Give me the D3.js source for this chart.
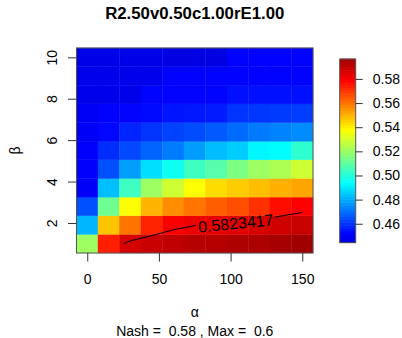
<!DOCTYPE html>
<html>
<head>
<meta charset="utf-8">
<script src="https://cdn.jsdelivr.net/npm/d3@7"></script>
<style>
  html, body { margin: 0; padding: 0; background: #fff; }
  svg { display: block; }
  text { font-family: "Liberation Sans", Arial, Helvetica, sans-serif; fill: #000; white-space: pre; }
</style>
</head>
<body>
<svg id="chart" width="402" height="338"></svg>
<script>
// ---------------- data ----------------
const chartTitle = "R2.50v0.50c1.00rE1.00";
const xLabel = "α";
const yLabel = "β";
const subTitle = "Nash =  0.58 , Max =  0.6";
const alphaValues = [0, 15, 30, 45, 60, 75, 90, 105, 120, 135, 150];
const betaValues = [1, 1.9, 2.8, 3.7, 4.6, 5.5, 6.4, 7.3, 8.2, 9.1, 10];
// rows listed from beta = 10 (top) down to beta = 1 (bottom); columns follow alphaValues
const zRows = [
  [0.4458, 0.4458, 0.4458, 0.4458, 0.4443, 0.4443, 0.4443, 0.4516, 0.4516, 0.4516, 0.4516],
  [0.4463, 0.4463, 0.4463, 0.4463, 0.4518, 0.4518, 0.4518, 0.4518, 0.4518, 0.4518, 0.4518],
  [0.4468, 0.4468, 0.4468, 0.4520, 0.4520, 0.4520, 0.4520, 0.4540, 0.4540, 0.4540, 0.4540],
  [0.4490, 0.4518, 0.4520, 0.4530, 0.4550, 0.4555, 0.4560, 0.4600, 0.4605, 0.4610, 0.4615],
  [0.4495, 0.4525, 0.4575, 0.4600, 0.4625, 0.4640, 0.4665, 0.4692, 0.4718, 0.4732, 0.4746],
  [0.4508, 0.4590, 0.4636, 0.4680, 0.4720, 0.4775, 0.4828, 0.4855, 0.4925, 0.4935, 0.5017],
  [0.4508, 0.4645, 0.4776, 0.4884, 0.4962, 0.5044, 0.5085, 0.5153, 0.5208, 0.5235, 0.5290],
  [0.4500, 0.4831, 0.5044, 0.5208, 0.5290, 0.5372, 0.5433, 0.5458, 0.5481, 0.5506, 0.5522],
  [0.4647, 0.5126, 0.5370, 0.5497, 0.5561, 0.5600, 0.5637, 0.5663, 0.5710, 0.5765, 0.5790],
  [0.4818, 0.5471, 0.5600, 0.5735, 0.5795, 0.5820, 0.5828, 0.5843, 0.5865, 0.5878, 0.5893],
  [0.5208, 0.5740, 0.5862, 0.5890, 0.5906, 0.5922, 0.5925, 0.5938, 0.5940, 0.5952, 0.5965]
];
const contourLevel = 0.5823417;
const xTicks = [0, 50, 100, 150];
const yTicks = [2, 4, 6, 8, 10];
const legendTicks = [0.46, 0.48, 0.50, 0.52, 0.54, 0.56, 0.58];
const paletteStops = [0, 0.047, 0.325, 0.613, 0.884, 1];
const paletteColors = ["#0000E2", "#0000FF", "#00FFFF", "#FFFF00", "#FF0000", "#A00000"];

// ---------------- layout ----------------
const svg = d3.select("#chart");
const plot = { left: 76.5, right: 313, top: 48, bottom: 253 };
const dAlpha = alphaValues[1] - alphaValues[0];
const dBeta = betaValues[1] - betaValues[0];

const x = d3.scaleLinear()
  .domain([alphaValues[0] - dAlpha / 2, alphaValues[alphaValues.length - 1] + dAlpha / 2])
  .range([plot.left, plot.right]);
const y = d3.scaleLinear()
  .domain([betaValues[0] - dBeta / 2, betaValues[betaValues.length - 1] + dBeta / 2])
  .range([plot.bottom, plot.top]);

// z grid indexed from bottom row
const zGrid = zRows.slice().reverse();
const allZ = zGrid.flat();
const zExt = d3.extent(allZ);
const color = d3.scaleLinear()
  .domain(paletteStops.map(s => zExt[0] + s * (zExt[1] - zExt[0])))
  .range(paletteColors)
  .clamp(true);

// ---------------- cells ----------------
const cells = [];
zGrid.forEach((row, j) => row.forEach((v, i) => cells.push({ a: alphaValues[i], b: betaValues[j], v })));
svg.append("g").selectAll("rect").data(cells).join("rect")
  .attr("x", d => x(d.a - dAlpha / 2))
  .attr("y", d => y(d.b + dBeta / 2))
  .attr("width", d => x(d.a + dAlpha / 2) - x(d.a - dAlpha / 2))
  .attr("height", d => y(d.b - dBeta / 2) - y(d.b + dBeta / 2))
  .attr("fill", d => color(d.v))
  .attr("stroke", d => color(d.v))
  .attr("stroke-width", 0.4);

// ---------------- contour (marching squares) ----------------
function contourSegments(grid, level) {
  const segs = [];
  const ny = grid.length, nx = grid[0].length;
  const interp = (p, q, vp, vq) => {
    const t = (level - vp) / (vq - vp);
    return [p[0] + t * (q[0] - p[0]), p[1] + t * (q[1] - p[1])];
  };
  for (let j = 0; j < ny - 1; j++) {
    for (let i = 0; i < nx - 1; i++) {
      const c = [[i, j], [i + 1, j], [i + 1, j + 1], [i, j + 1]];
      const v = [grid[j][i], grid[j][i + 1], grid[j + 1][i + 1], grid[j + 1][i]];
      const pts = [];
      for (let k = 0; k < 4; k++) {
        const k2 = (k + 1) % 4;
        const a = v[k] >= level, b = v[k2] >= level;
        if (a !== b) pts.push(interp(c[k], c[k2], v[k], v[k2]));
      }
      if (pts.length === 2) segs.push([pts[0], pts[1]]);
      else if (pts.length === 4) {
        const center = d3.mean(v);
        if ((center >= level) === (v[0] >= level)) { segs.push([pts[0], pts[3]]); segs.push([pts[1], pts[2]]); }
        else { segs.push([pts[0], pts[1]]); segs.push([pts[2], pts[3]]); }
      }
    }
  }
  const key = p => p[0].toFixed(6) + "," + p[1].toFixed(6);
  const lines = [];
  const used = new Array(segs.length).fill(false);
  for (let s = 0; s < segs.length; s++) {
    if (used[s]) continue;
    used[s] = true;
    let line = [segs[s][0], segs[s][1]];
    let extended = true;
    while (extended) {
      extended = false;
      for (let t = 0; t < segs.length; t++) {
        if (used[t]) continue;
        const [p, q] = segs[t];
        const head = key(line[0]), tail = key(line[line.length - 1]);
        if (key(p) === tail) { line.push(q); }
        else if (key(q) === tail) { line.push(p); }
        else if (key(p) === head) { line.unshift(q); }
        else if (key(q) === head) { line.unshift(p); }
        else continue;
        used[t] = true; extended = true;
      }
    }
    lines.push(line);
  }
  return lines;
}
const idxToAlpha = fi => alphaValues[0] + fi * dAlpha;
const idxToBeta = fj => betaValues[0] + fj * dBeta;
const lines = contourSegments(zGrid, contourLevel).map(l => {
  const pts = l.map(p => [x(idxToAlpha(p[0])), y(idxToBeta(p[1]))]);
  return pts[0][0] > pts[pts.length - 1][0] ? pts.reverse() : pts;
});
const longest = lines.reduce((a, b) => (b.length > a.length ? b : a), lines[0]);

const defs = svg.append("defs");
const mask = defs.append("mask").attr("id", "labelGap").attr("maskUnits", "userSpaceOnUse");
mask.append("rect").attr("x", 0).attr("y", 0).attr("width", 402).attr("height", 338).attr("fill", "#fff");

const contourG = svg.append("g");
const paths = contourG.selectAll("path").data(lines).join("path")
  .attr("d", d3.line())
  .attr("fill", "none")
  .attr("stroke", "#000")
  .attr("stroke-width", 1)
  .attr("mask", "url(#labelGap)");

const mainPath = paths.filter(d => d === longest).node();
const total = mainPath.getTotalLength();
const at = total * 0.63;
const p0 = mainPath.getPointAtLength(at - 25), p1 = mainPath.getPointAtLength(at + 25);
const pc = mainPath.getPointAtLength(at);
const ang = Math.atan2(p1.y - p0.y, p1.x - p0.x) * 180 / Math.PI;
const labelFont = 16;
const lbl = svg.append("text")
  .attr("transform", `translate(${pc.x},${pc.y}) rotate(${ang})`)
  .attr("text-anchor", "middle")
  .attr("dy", "0.36em")
  .style("font-size", labelFont + "px")
  .text(String(contourLevel));
const lw = lbl.node().getComputedTextLength();
mask.append("rect")
  .attr("x", -lw / 2 - 2).attr("y", -labelFont / 2).attr("width", lw + 4).attr("height", labelFont)
  .attr("transform", `translate(${pc.x},${pc.y}) rotate(${ang})`)
  .attr("fill", "#000");

// ---------------- box & axes ----------------
svg.append("rect")
  .attr("x", plot.left).attr("y", plot.top)
  .attr("width", plot.right - plot.left).attr("height", plot.bottom - plot.top)
  .attr("fill", "none").attr("stroke", "#555").attr("stroke-width", 1);

const xAxis = svg.append("g").attr("transform", `translate(0,${plot.bottom})`)
  .call(d3.axisBottom(x).tickValues(xTicks).tickSize(8.5).tickFormat(d3.format("d")));
xAxis.select(".domain").remove();
xAxis.selectAll("line").attr("stroke", "#333");
xAxis.selectAll("text").style("font-size", "14px").attr("font-family", null).attr("dy", null).attr("y", 30.5);

const yAxis = svg.append("g").attr("transform", `translate(${plot.left},0)`)
  .call(d3.axisLeft(y).tickValues(yTicks).tickSize(8.5).tickFormat(d3.format("d")));
yAxis.select(".domain").remove();
yAxis.selectAll("line").attr("stroke", "#333");
yAxis.selectAll("text")
  .style("font-size", "14px").attr("font-family", null)
  .attr("x", null).attr("dy", null)
  .attr("text-anchor", "middle")
  .attr("transform", "translate(-19.5,0) rotate(-90)");

// ---------------- titles ----------------
const cx = (plot.left + plot.right) / 2;
svg.append("text").attr("x", cx).attr("y", 19.3).attr("text-anchor", "middle")
  .style("font-size", "16.8px").style("font-weight", "bold").text(chartTitle);
svg.append("text").attr("x", cx).attr("y", 317).attr("text-anchor", "middle")
  .style("font-size", "14px").text(xLabel);
svg.append("text").attr("x", cx).attr("y", 335.5).attr("text-anchor", "middle")
  .style("font-size", "14px").text(subTitle);
svg.append("text").attr("transform", `translate(19.5,${(plot.top + plot.bottom) / 2}) rotate(-90)`)
  .attr("text-anchor", "middle").style("font-size", "14px").text(yLabel);

// ---------------- colour legend ----------------
const leg = { left: 339.7, right: 355.7, top: 59, bottom: 242.7 };
const ly = d3.scaleLinear().domain(zExt).range([leg.bottom, leg.top]);
const nSlices = 64;
const sliceVals = d3.range(nSlices).map(k => zExt[0] + (k + 0.5) * (zExt[1] - zExt[0]) / nSlices);
const sh = (leg.bottom - leg.top) / nSlices;
svg.append("g").selectAll("rect").data(sliceVals).join("rect")
  .attr("x", leg.left).attr("width", leg.right - leg.left)
  .attr("y", d => ly(d) - sh / 2 - 0.3).attr("height", sh + 0.6)
  .attr("fill", d => color(d));
svg.append("rect").attr("x", leg.left).attr("y", leg.top)
  .attr("width", leg.right - leg.left).attr("height", leg.bottom - leg.top)
  .attr("fill", "none").attr("stroke", "#555").attr("stroke-width", 1);
const legAxis = svg.append("g").attr("transform", `translate(${leg.right},0)`)
  .call(d3.axisRight(ly).tickValues(legendTicks).tickSize(7).tickPadding(10).tickFormat(d3.format(".2f")));
legAxis.select(".domain").remove();
legAxis.selectAll("line").attr("stroke", "#333");
legAxis.selectAll("text").style("font-size", "14px").attr("font-family", null);
</script>
</body>
</html>
